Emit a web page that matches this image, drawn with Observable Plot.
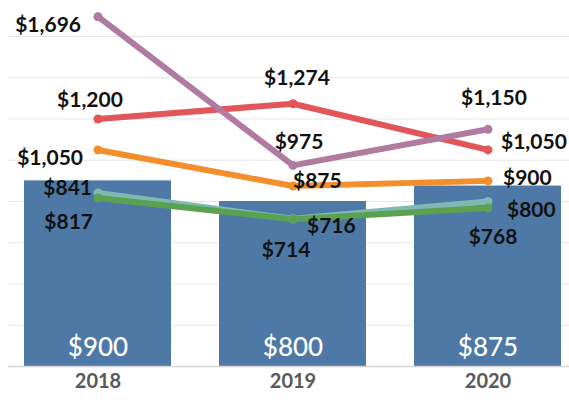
<!DOCTYPE html>
<html>
<head>
<meta charset="utf-8">
<script src="https://cdn.jsdelivr.net/npm/d3@7"></script>
<script src="https://cdn.jsdelivr.net/npm/@observablehq/plot@0.6"></script>
<style>
  html, body { margin: 0; padding: 0; background: #fff; }
  #chart svg { display: block; }
</style>
</head>
<body>
<div id="chart"></div>
<script>
// ---- data ----
const years = ["2018", "2019", "2020"];
const barValues = [900, 800, 875];
const seriesNames = ["teal", "green", "orange", "red", "purple"];
const tealValues = [841, 716, 800];
const greenValues = [817, 714, 768];
const orangeValues = [1050, 875, 900];
const redValues = [1200, 1274, 1050];
const purpleValues = [1696, 975, 1150];

// ---- styles / layout (not data) ----
const colors = {
  teal: "#7cbab3", green: "#5aa24f", orange: "#f28e2b", red: "#e15759", purple: "#b07aa1"
};
// label placement per series per year: [textAnchor, dx, dy]
const labelPlacement = {
  purple: [["end", -17, 9], ["middle", 6, -23], ["middle", 6, -31]],
  red:    [["middle", -8, -19], ["middle", 4, -25], ["start", 13, -8]],
  orange: [["end", -15, 8], ["start", 0, -5], ["start", 15, -3]],
  teal:   [["end", -6, -5], ["start", 14, 7], ["start", 19, 9]],
  green:  [["end", -5, 24], ["middle", -7, 31], ["middle", 5, 29]]
};

const valuesBySeries = {
  teal: tealValues, green: greenValues, orange: orangeValues, red: redValues, purple: purpleValues
};
const bars = years.map((year, i) => ({year, value: barValues[i]}));
const points = seriesNames.flatMap(s => years.map((year, i) => ({series: s, year, value: valuesBySeries[s][i], i})));

const fmt = v => "$" + d3.format(",")(v);
const FONT = "Lato, 'Open Sans', sans-serif";

const labelMarks = points.map(p => {
  const [anchor, dx, dy] = labelPlacement[p.series][p.i];
  return Plot.text([p], {
    x: "year", y: "value", text: d => fmt(d.value),
    textAnchor: anchor, lineAnchor: "middle", dx, dy,
    fill: "#111", fontSize: 21, fontWeight: 700, fontFamily: FONT
  });
});

const chart = Plot.plot({
  width: 569,
  height: 400,
  marginLeft: 8,
  marginRight: 0,
  marginTop: 36,
  marginBottom: 34,
  style: {fontFamily: FONT, background: "#fff"},
  x: {type: "band", domain: years, range: [-1.4, 585.9], paddingInner: 0.244, paddingOuter: 0.122, align: 0.5, label: null},
  y: {domain: [0, 1600], label: null, axis: null},
  marks: [
    Plot.gridY({interval: 200, stroke: "#e6e6e6", strokeOpacity: 1, strokeWidth: 1}),
    Plot.barY(bars, {x: "year", y: "value", fill: "#4e79a7"}),
    Plot.ruleY([0], {stroke: "#d4d4d4", strokeWidth: 1.5}),
    Plot.text(bars, {x: "year", y: 0, text: d => fmt(d.value), fill: "#fff", fontSize: 26, fontWeight: 500, lineAnchor: "middle", dy: -19, fontFamily: FONT}),
    Plot.axisX({tickSize: 0, tickPadding: 7, fontSize: 20, fontWeight: 700, fill: "#595959", label: null, fontFamily: FONT}),
    ...seriesNames.map(s => Plot.line(points.filter(p => p.series === s), {
      x: "year", y: "value", stroke: colors[s], strokeWidth: 6, strokeLinecap: "round", strokeLinejoin: "round"
    })),
    ...seriesNames.map(s => Plot.dot(points.filter(p => p.series === s), {
      x: "year", y: "value", fill: colors[s], r: 4.5
    })),
    ...labelMarks
  ]
});
document.getElementById("chart").appendChild(chart);
</script>
</body>
</html>
